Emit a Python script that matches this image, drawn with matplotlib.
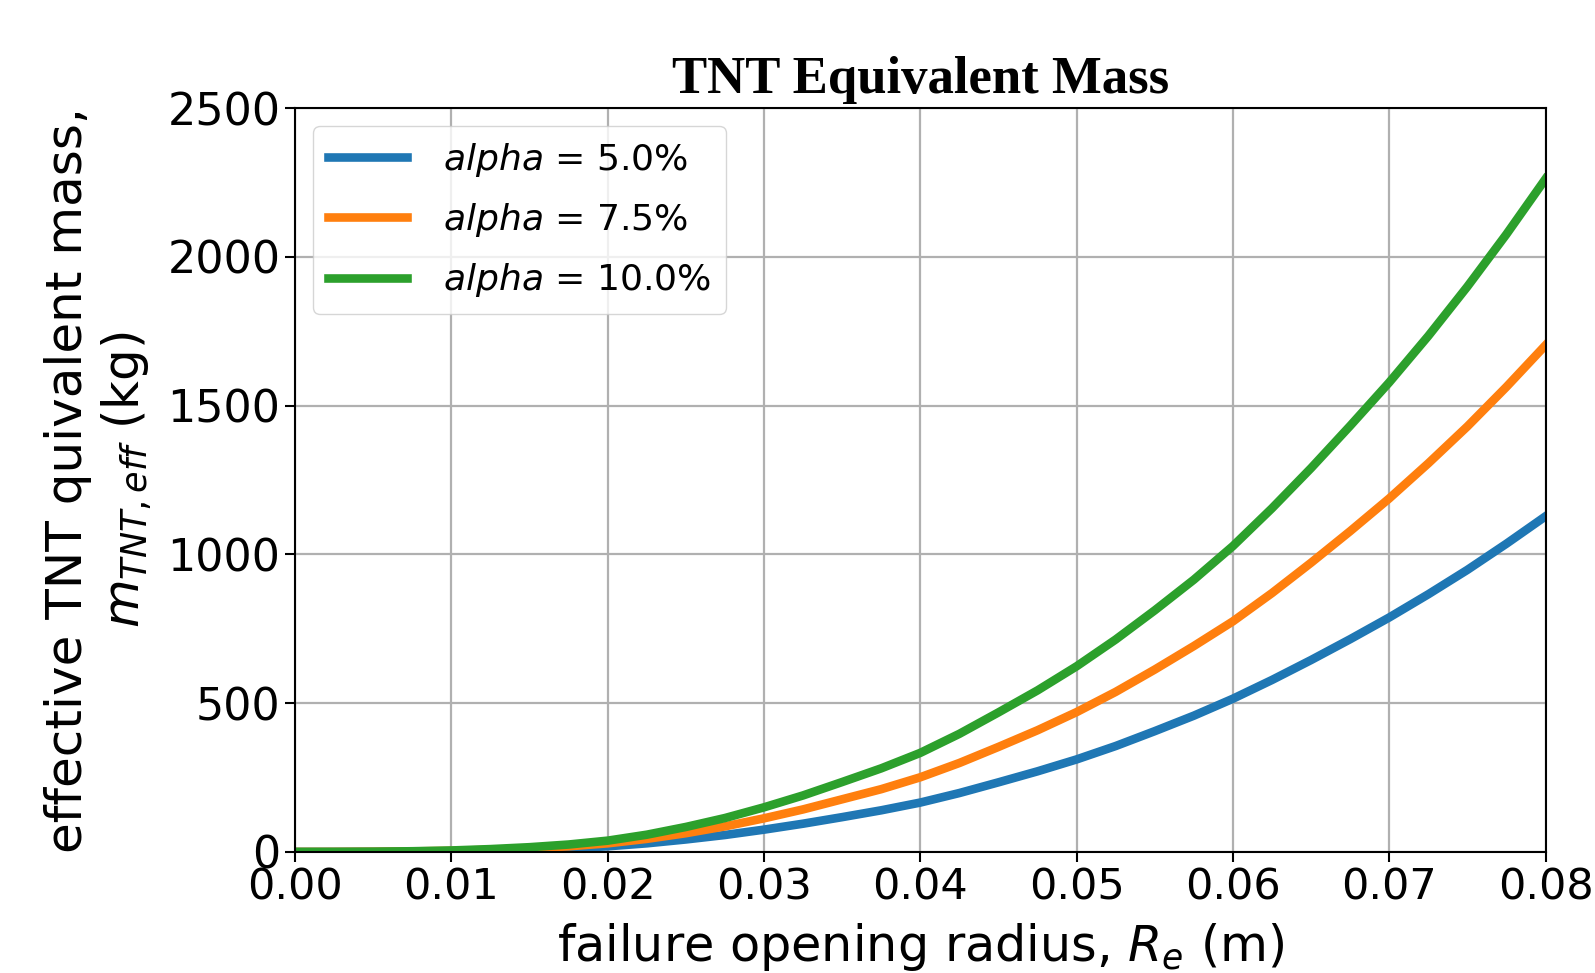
import numpy as np
import matplotlib
matplotlib.use('Agg')
import matplotlib.pyplot as plt

# failure opening radius (m)
radius = [0.0, 0.0025, 0.005, 0.0075, 0.01, 0.0125, 0.015, 0.0175, 0.02,
          0.0225, 0.025, 0.0275, 0.03, 0.0325, 0.035, 0.0375, 0.04,
          0.0425, 0.045, 0.0475, 0.05, 0.0525, 0.055, 0.0575, 0.06,
          0.0625, 0.065, 0.0675, 0.07, 0.0725, 0.075, 0.0775, 0.08]

# effective TNT mass (kg)
mass_5 = [0, 0.1, 0.4, 1.2, 2.5, 4.8, 8, 12.5, 19, 29, 42, 57, 75, 95, 117, 140,
          166, 198, 234, 271, 311, 356, 406, 458, 515, 578, 645, 715, 788, 866,
          948, 1036, 1128]
mass_75 = [0, 0.15, 0.6, 1.8, 3.8, 7.2, 12, 19, 29, 44, 63, 86, 113, 143, 177,
           211, 251, 299, 353, 409, 470, 538, 613, 692, 775, 870, 972, 1078,
           1188, 1306, 1430, 1563, 1703]
mass_10 = [0, 0.2, 0.8, 2.4, 5, 9.6, 16, 25, 38, 58, 84, 114, 150, 190, 235,
           281, 333, 397, 469, 543, 624, 714, 812, 915, 1028, 1155, 1290, 1432,
           1578, 1734, 1900, 2076, 2262]

labels = [r'$alpha$ = 5.0%', r'$alpha$ = 7.5%', r'$alpha$ = 10.0%']
colors = ['#1f77b4', '#ff7f0e', '#2ca02c']

fig = plt.figure(figsize=(15.95, 9.73), dpi=100)
ax = fig.add_subplot(111)
fig.subplots_adjust(left=0.185, right=0.969, bottom=0.1244, top=0.889)

for m, lab, c in zip([mass_5, mass_75, mass_10], labels, colors):
    ax.plot(radius, m, color=c, lw=6.2, label=lab)

ax.set_xlim(0, 0.08)
ax.set_ylim(0, 2500)
ax.set_xticks(np.arange(0, 0.081, 0.01))
ax.set_yticks(np.arange(0, 2501, 500))
ax.xaxis.set_major_formatter(matplotlib.ticker.FormatStrFormatter('%.2f'))
ax.grid(True, color='#b0b0b0', lw=1.6)
ax.tick_params(labelsize=31, length=7, width=1.5)
ax.tick_params(axis='y', labelsize=32)
for s in ax.spines.values():
    s.set_linewidth(1.5)

ax.set_xlabel(r'failure opening radius, $R_e$ (m)', fontsize=35.5, labelpad=9)
ax.set_ylabel('effective TNT quivalent mass,\n' + r'$m_{TNT,eff}$ (kg)',
              fontsize=36, labelpad=10)
ax.set_title('TNT Equivalent Mass', fontsize=38, fontweight='bold',
             family='Liberation Serif', pad=11)

ax.legend(loc='upper left', fontsize=26, handlelength=2.2,
          handletextpad=1.0, labelspacing=0.62)

fig.savefig('out.png', dpi=100)
